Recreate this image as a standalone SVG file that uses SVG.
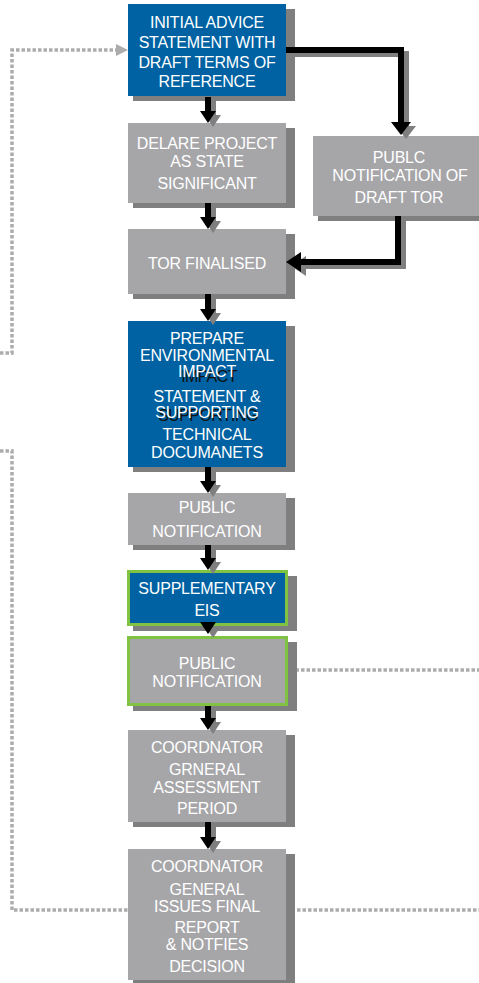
<svg xmlns="http://www.w3.org/2000/svg" width="479" height="983" viewBox="0 0 479 983">
  <style>
    .shadow { fill: #7f7f7f; }
    .blue { fill: #0062a2; }
    .grey { fill: #a6a6a9; }
    .green { stroke: #80c342; stroke-width: 3; }
    .t { font-family: "Liberation Sans", Arial, sans-serif; font-size: 16px; letter-spacing: -0.2px; text-anchor: middle; fill: #ffffff; }
    .tk { font-family: "Liberation Sans", Arial, sans-serif; font-size: 16px; letter-spacing: -0.6px; text-anchor: middle; fill: #111111; }
    .shaft { stroke: #000000; stroke-width: 6; fill: none; }
    .shaft-s { stroke: #7f7f7f; stroke-width: 6; fill: none; }
    .head { fill: #000000; }
    .head-s { fill: #7f7f7f; }
    .dot { stroke: #acacac; stroke-width: 3.5; fill: none; stroke-dasharray: 3.5 2; }
    .dothead { fill: #acacac; }
  </style>

  <!-- feedback loops (dotted) -->
  <g id="loops">
    <path class="dot" d="M0,353 H12 V50 H118"/>
    <polygon class="dothead" points="116,44 128,50 116,56"/>
    <path class="dot" d="M0,451 H12 V910 H128"/>
    <path class="dot" d="M286,910 H479"/>
    <path class="dot" d="M290,670 H479"/>
  </g>

  <g id="n-initial-advice">
    <rect class="shadow" x="133" y="9" width="162" height="92"/>
    <rect class="blue" x="128" y="4" width="158" height="92"/>
    <text class="t" x="207" y="28">INITIAL ADVICE</text>
    <text class="t" x="207" y="48">STATEMENT WITH</text>
    <text class="t" x="207" y="68">DRAFT TERMS OF</text>
    <text class="t" x="207" y="87">REFERENCE</text>
  </g>

  <g id="n-declare">
    <rect class="shadow" x="133" y="128" width="162" height="80"/>
    <rect class="grey" x="128" y="123" width="158" height="80"/>
    <text class="t" x="207" y="149">DELARE PROJECT</text>
    <text class="t" x="207" y="167">AS STATE</text>
    <text class="t" x="207" y="189">SIGNIFICANT</text>
  </g>

  <g id="n-public-draft-tor">
    <rect class="shadow" x="318" y="141" width="176" height="80"/>
    <rect class="grey" x="313" y="136" width="172" height="80"/>
    <text class="t" x="399" y="163">PUBLC</text>
    <text class="t" x="400" y="181">NOTIFICATION OF</text>
    <text class="t" x="399" y="203">DRAFT TOR</text>
  </g>

  <g id="n-tor-finalised">
    <rect class="shadow" x="133" y="234" width="162" height="65"/>
    <rect class="grey" x="128" y="229" width="158" height="65"/>
    <text class="t" x="207" y="269">TOR FINALISED</text>
  </g>

  <g id="n-prepare-eis">
    <rect class="shadow" x="133" y="326" width="162" height="146"/>
    <rect class="blue" x="128" y="321" width="158" height="146"/>
    <text class="t" x="207" y="344">PREPARE</text>
    <text class="t" x="207" y="361">ENVIRONMENTAL</text>
    <!-- the doubled line is printed twice, a dark copy slightly lower -->
    <text class="tk" x="209" y="382">IMPACT</text>
    <text class="t" x="207" y="377">IMPACT</text>
    <text class="t" x="207" y="402">STATEMENT &amp;</text>
    <text class="tk" x="208" y="421">SUPPORTING</text>
    <text class="t" x="207" y="418">SUPPORTING</text>
    <text class="t" x="207" y="440">TECHNICAL</text>
    <text class="t" x="207" y="458">DOCUMANETS</text>
  </g>

  <g id="n-public-notification-1">
    <rect class="shadow" x="133" y="498" width="162" height="52"/>
    <rect class="grey" x="128" y="493" width="158" height="52"/>
    <text class="t" x="207" y="513">PUBLIC</text>
    <text class="t" x="207" y="537">NOTIFICATION</text>
  </g>

  <g id="n-supplementary-eis">
    <rect class="shadow" x="133" y="576" width="164" height="55"/>
    <rect class="blue green" x="128.5" y="571.5" width="158" height="53"/>
    <text class="t" x="207" y="594">SUPPLEMENTARY</text>
    <text class="t" x="207" y="616">EIS</text>
  </g>

  <g id="n-public-notification-2">
    <rect class="shadow" x="133" y="642" width="164" height="69"/>
    <rect class="grey green" x="128.5" y="637.5" width="158" height="67"/>
    <text class="t" x="207" y="669">PUBLIC</text>
    <text class="t" x="207" y="687">NOTIFICATION</text>
  </g>

  <g id="n-assessment-period">
    <rect class="shadow" x="133" y="735" width="162" height="92"/>
    <rect class="grey" x="128" y="730" width="158" height="92"/>
    <text class="t" x="207" y="753">COORDNATOR</text>
    <text class="t" x="207" y="775">GRNERAL</text>
    <text class="t" x="207" y="793">ASSESSMENT</text>
    <text class="t" x="207" y="814">PERIOD</text>
  </g>

  <g id="n-final-report">
    <rect class="shadow" x="133" y="854" width="162" height="131"/>
    <rect class="grey" x="128" y="849" width="158" height="131"/>
    <text class="t" x="207" y="872">COORDNATOR</text>
    <text class="t" x="207" y="895">GENERAL</text>
    <text class="t" x="207" y="912">ISSUES FINAL</text>
    <text class="t" x="207" y="933">REPORT</text>
    <text class="t" x="207" y="950">&amp; NOTFIES</text>
    <text class="t" x="207" y="972">DECISION</text>
  </g>

  <!-- flow connectors: grey drop-shadow first, black arrow on top -->
  <g id="connectors">
    <g id="c-shadows" transform="translate(5,4)">
      <path class="shaft-s" d="M208,97 V111 M208,203 V217 M208,294 V309 M208,467 V481 M208,545 V558 M208,706 V718 M208,822 V837"/>
      <polygon class="head-s" points="200,111 216,111 208,123"/>
      <polygon class="head-s" points="200,217 216,217 208,229"/>
      <polygon class="head-s" points="200,309 216,309 208,321"/>
      <polygon class="head-s" points="200,481 216,481 208,493"/>
      <polygon class="head-s" points="200,558 216,558 208,570"/>
      <polygon class="head-s" points="200,622 216,622 208,634"/>
      <polygon class="head-s" points="200,718 216,718 208,730"/>
      <polygon class="head-s" points="200,837 216,837 208,849"/>
      <path class="shaft-s" d="M286,50 H401 V123"/>
      <polygon class="head-s" points="391,122 411,122 401,135"/>
      <path class="shaft-s" d="M398,216 V262 H300"/>
      <polygon class="head-s" points="301,252 301,272 286,262"/>
    </g>
    <g id="c-arrows">
      <path class="shaft" d="M208,97 V111 M208,203 V217 M208,294 V309 M208,467 V481 M208,545 V558 M208,706 V718 M208,822 V837"/>
      <polygon class="head" points="200,111 216,111 208,123"/>
      <polygon class="head" points="200,217 216,217 208,229"/>
      <polygon class="head" points="200,309 216,309 208,321"/>
      <polygon class="head" points="200,481 216,481 208,493"/>
      <polygon class="head" points="200,558 216,558 208,570"/>
      <polygon class="head" points="200,622 216,622 208,634"/>
      <polygon class="head" points="200,718 216,718 208,730"/>
      <polygon class="head" points="200,837 216,837 208,849"/>
      <path class="shaft" d="M286,50 H401 V123"/>
      <polygon class="head" points="391,122 411,122 401,135"/>
      <path class="shaft" d="M398,216 V262 H300"/>
      <polygon class="head" points="301,252 301,272 286,262"/>
    </g>
  </g>
</svg>
